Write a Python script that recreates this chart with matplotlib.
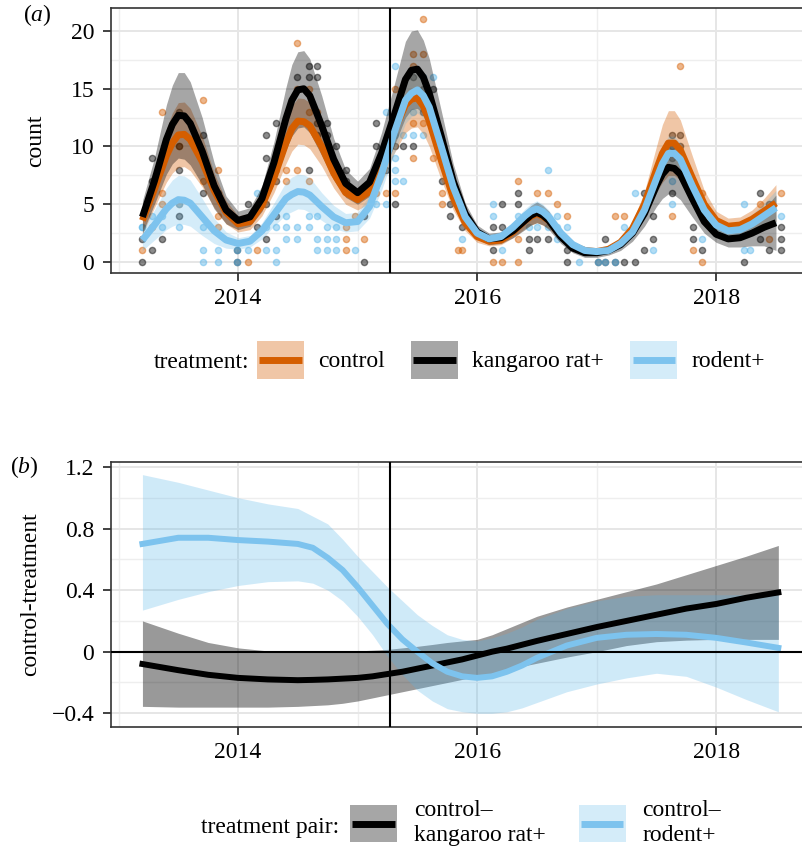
import numpy as np
import matplotlib.pyplot as plt
from matplotlib.colors import to_rgba
from matplotlib.patches import Rectangle
from matplotlib.lines import Line2D
from matplotlib.legend_handler import HandlerBase

plt.rcParams['font.family'] = ['Liberation Serif', 'DejaVu Serif']
plt.rcParams['mathtext.fontset'] = 'custom'
plt.rcParams['mathtext.rm'] = 'Liberation Serif'
plt.rcParams['mathtext.it'] = 'Liberation Serif:italic'

# ---- data ----
change_date = 2015.27

# smooth fits, panel (a)
t_fit = [2013.2, 2013.3, 2013.4, 2013.45, 2013.5, 2013.55, 2013.6, 2013.7, 2013.8, 2013.9,
         2014.0, 2014.1, 2014.2, 2014.3, 2014.4, 2014.45, 2014.5, 2014.55, 2014.6, 2014.7, 2014.8, 2014.9,
         2015.0, 2015.1, 2015.2, 2015.3, 2015.4, 2015.45, 2015.5, 2015.55, 2015.6, 2015.7, 2015.8, 2015.9,
         2016.0, 2016.1, 2016.2, 2016.3, 2016.4, 2016.45, 2016.5, 2016.55, 2016.6, 2016.7, 2016.8, 2016.9,
         2017.0, 2017.1, 2017.2, 2017.3, 2017.4, 2017.5, 2017.55, 2017.6, 2017.65, 2017.7, 2017.8, 2017.9,
         2018.0, 2018.1, 2018.2, 2018.3, 2018.4, 2018.5]

ctrl_fit = [3.6, 6.3, 9.2, 10.3, 11.0, 11.05, 10.6, 8.7, 6.2, 4.3,
            3.3, 3.5, 4.9, 7.3, 10.3, 11.55, 12.2, 12.15, 11.8, 10.0, 7.7, 6.0,
            5.4, 6.1, 8.2, 11.2, 13.6, 14.1, 14.2, 13.5, 12.2, 8.8, 5.6, 3.4,
            2.2, 1.8, 1.9, 2.6, 3.6, 3.95, 4.2, 3.95, 3.6, 2.3, 1.4, 1.0,
            0.9, 1.1, 1.7, 2.9, 5.0, 8.0, 9.4, 10.3, 10.3, 9.7, 7.3, 5.0,
            3.6, 3.1, 3.2, 3.7, 4.4, 5.1]
ctrl_hw = [1.2, 1.6, 2.3, 2.6, 2.8, 2.8, 2.7, 2.2, 1.5, 1.0,
           0.7, 0.7, 0.9, 1.3, 1.8, 1.95, 2.0, 2.0, 2.0, 1.7, 1.3, 1.0,
           0.9, 1.0, 1.4, 1.9, 2.4, 2.5, 2.5, 2.4, 2.2, 1.7, 1.1, 0.7,
           0.5, 0.4, 0.4, 0.5, 0.7, 0.75, 0.8, 0.75, 0.7, 0.5, 0.4, 0.3,
           0.3, 0.3, 0.4, 0.6, 1.1, 2.0, 2.5, 2.8, 2.8, 2.6, 1.9, 1.2,
           0.8, 0.7, 0.7, 0.8, 1.1, 1.6]

krat_fit = [3.9, 7.0, 10.6, 11.9, 12.7, 12.65, 12.0, 9.6, 6.6, 4.5,
            3.6, 3.9, 5.5, 8.6, 12.4, 14.0, 14.9, 15.0, 14.4, 11.8, 8.9, 6.8,
            6.0, 6.9, 9.4, 12.5, 15.8, 16.6, 16.7, 16.0, 14.6, 10.9, 7.0, 4.2,
            2.6, 2.0, 2.1, 2.7, 3.6, 4.05, 4.3, 4.05, 3.6, 2.2, 1.2, 0.8,
            0.8, 1.0, 1.5, 2.5, 4.2, 6.6, 7.6, 8.2, 8.1, 7.6, 5.5, 3.5,
            2.4, 2.0, 2.1, 2.5, 3.0, 3.4]
krat_hw = [1.4, 2.0, 3.0, 3.4, 3.7, 3.75, 3.6, 2.9, 2.0, 1.2,
           0.8, 0.8, 1.1, 1.8, 2.7, 3.1, 3.3, 3.3, 3.2, 2.6, 1.8, 1.2,
           1.0, 1.2, 1.8, 2.6, 3.3, 3.4, 3.4, 3.2, 3.0, 2.2, 1.5, 0.9,
           0.6, 0.5, 0.5, 0.6, 0.8, 0.85, 0.9, 0.85, 0.8, 0.6, 0.4, 0.4,
           0.4, 0.4, 0.5, 0.7, 1.1, 1.8, 2.1, 2.3, 2.3, 2.2, 1.6, 1.0,
           0.7, 0.7, 0.8, 1.1, 1.6, 2.4]

rod_fit = [1.9, 3.2, 4.6, 5.1, 5.4, 5.35, 5.1, 3.9, 2.7, 1.9,
           1.6, 1.8, 2.7, 4.1, 5.5, 5.85, 6.1, 6.05, 5.8, 4.8, 3.9, 3.4,
           3.5, 4.8, 7.6, 11.0, 14.0, 14.6, 14.9, 14.4, 13.4, 10.0, 6.5, 3.9,
           2.5, 2.0, 2.2, 3.0, 4.0, 4.4, 4.6, 4.35, 3.9, 2.5, 1.5, 1.0,
           0.9, 1.0, 1.6, 2.6, 4.5, 7.2, 8.5, 9.4, 9.4, 8.9, 6.6, 4.5,
           3.2, 2.7, 2.8, 3.3, 4.0, 4.7]
rod_hw = [0.9, 1.3, 1.8, 2.0, 2.1, 2.1, 2.0, 1.6, 1.1, 0.7,
          0.5, 0.5, 0.7, 1.0, 1.4, 1.5, 1.5, 1.5, 1.5, 1.2, 1.0, 0.8,
          0.8, 1.0, 1.4, 1.8, 2.0, 2.0, 2.0, 1.9, 1.8, 1.4, 1.0, 0.7,
          0.5, 0.4, 0.4, 0.5, 0.6, 0.65, 0.7, 0.65, 0.6, 0.5, 0.4, 0.3,
          0.3, 0.3, 0.4, 0.5, 0.8, 1.2, 1.4, 1.5, 1.5, 1.4, 1.1, 0.8,
          0.6, 0.6, 0.6, 0.8, 1.1, 1.5]

# plot-level counts, panel (a): (census date, counts)
ctrl_obs = [(2013.20, (1,)), (2013.28, (3,)), (2013.36, (13, 6, 5)), (2013.51, (10, 5)),
            (2013.71, (14, 7)), (2013.83, (8, 3, 4)), (2014.08, (0,)), (2014.16, (1,)),
            (2014.32, (8,)), (2014.40, (8, 7)), (2014.49, (19, 15, 8)), (2014.59, (15, 13, 7)),
            (2014.66, (13,)), (2014.74, (10,)), (2014.82, (8,)), (2014.90, (3, 2, 1)),
            (2014.98, (6, 4)), (2015.05, (2,)), (2015.15, (6,)), (2015.24, (6,)),
            (2015.31, (15, 6)), (2015.46, (18, 17, 12, 9)), (2015.55, (21, 18, 12)),
            (2015.63, (9,)), (2015.71, (6, 5)), (2015.84, (1,)), (2015.87, (1,)),
            (2016.13, (0,)), (2016.21, (0,)), (2016.34, (7, 2, 0)), (2016.50, (6,)),
            (2016.59, (6,)), (2016.67, (5,)), (2016.75, (4,)), (2017.15, (4,)),
            (2017.23, (4,)), (2017.63, (4,)), (2017.70, (17,)), (2017.81, (1,)),
            (2017.88, (6, 0)), (2018.37, (5,)), (2018.44, (2,)), (2018.54, (6,))]

krat_obs = [(2013.20, (0, 2)), (2013.28, (9, 7, 1)), (2013.36, (2,)), (2013.51, (13, 10, 8, 4)),
            (2013.71, (11, 6)), (2013.83, (6,)), (2013.99, (1, 0)), (2014.08, (5,)),
            (2014.16, (3,)), (2014.23, (11, 9, 5, 2)), (2014.32, (12, 7, 4)), (2014.49, (16,)),
            (2014.59, (17, 16, 8)), (2014.66, (17, 16, 12, 11)), (2014.74, (12, 11)),
            (2014.82, (10,)), (2014.90, (8, 7)), (2015.05, (0, 4)), (2015.15, (12, 10)),
            (2015.24, (8,)), (2015.31, (10, 5)), (2015.38, (10,)), (2015.46, (16, 10)),
            (2015.55, (15, 13)), (2015.63, (15,)), (2015.71, (7,)), (2015.77, (5, 4)),
            (2015.87, (3,)), (2016.13, (3, 1)), (2016.21, (5, 3)), (2016.34, (6, 5)),
            (2016.43, (2, 1)), (2016.50, (2,)), (2016.59, (2,)), (2016.75, (1, 0)),
            (2017.01, (0,)), (2017.07, (2, 0)), (2017.15, (0,)), (2017.23, (2, 0)),
            (2017.32, (0,)), (2017.40, (6, 1)), (2017.47, (4, 2)), (2017.63, (11, 10, 9, 6)),
            (2017.70, (11, 10)), (2017.81, (3, 2)), (2017.88, (1,)), (2018.23, (0,)),
            (2018.37, (6, 2)), (2018.44, (5, 1)), (2018.54, (3, 2, 1))]

rod_obs = [(2013.20, (3, 3)), (2013.28, (4,)), (2013.36, (3, 4)), (2013.51, (5, 3)),
           (2013.71, (3, 1, 0)), (2013.83, (1, 0)), (2013.99, (1, 0)), (2014.08, (1,)),
           (2014.16, (6,)), (2014.23, (3, 1)), (2014.32, (3, 1, 0)), (2014.40, (3, 2, 4)),
           (2014.49, (3, 2)), (2014.59, (4, 3)), (2014.66, (4, 2, 1)), (2014.74, (3, 2, 1)),
           (2014.82, (3, 2, 1)), (2014.98, (1,)), (2015.15, (5,)), (2015.24, (13, 5)),
           (2015.31, (17, 11, 9, 8, 7)), (2015.38, (11, 7)), (2015.46, (13, 11)),
           (2015.55, (16, 14, 11)), (2015.63, (16,)), (2015.71, (10,)), (2015.87, (2,)),
           (2016.13, (5, 4)), (2016.21, (1,)), (2016.34, (4,)), (2016.43, (3,)),
           (2016.50, (3,)), (2016.59, (8, 3)), (2016.67, (4, 3, 2)), (2016.75, (3,)),
           (2016.85, (0,)), (2017.01, (0,)), (2017.07, (0,)), (2017.15, (0,)),
           (2017.23, (3,)), (2017.32, (6,)), (2017.47, (1,)), (2017.63, (7, 5)),
           (2017.81, (7,)), (2017.88, (2,)), (2018.23, (5, 1)), (2018.28, (1,)), (2018.54, (4,))]

# panel (b): control minus treatment
t_diff = [2013.2, 2013.5, 2013.75, 2014.0, 2014.25, 2014.5, 2014.625, 2014.75, 2014.875,
          2015.0, 2015.125, 2015.25, 2015.375, 2015.5, 2015.625, 2015.75, 2015.875, 2016.0,
          2016.125, 2016.25, 2016.375, 2016.5, 2016.75, 2017.0, 2017.25, 2017.5, 2017.75,
          2018.0, 2018.25, 2018.52]
krat_diff = [-0.08, -0.12, -0.15, -0.17, -0.18, -0.185, -0.183, -0.18, -0.175,
             -0.17, -0.16, -0.145, -0.13, -0.11, -0.09, -0.07, -0.05, -0.025,
             0.0, 0.02, 0.045, 0.07, 0.115, 0.16, 0.20, 0.24, 0.28,
             0.31, 0.35, 0.385]
krat_diff_lo = [-0.355, -0.36, -0.36, -0.36, -0.36, -0.355, -0.35, -0.345, -0.335,
                -0.32, -0.30, -0.28, -0.26, -0.24, -0.22, -0.20, -0.18, -0.16,
                -0.14, -0.115, -0.095, -0.075, -0.035, 0.0, 0.04, 0.065, 0.075,
                0.08, 0.08, 0.08]
krat_diff_hi = [0.20, 0.12, 0.06, 0.025, 0.005, -0.005, -0.003, 0.0, 0.003,
                0.005, 0.01, 0.015, 0.025, 0.035, 0.047, 0.06, 0.07, 0.08,
                0.11, 0.15, 0.19, 0.23, 0.29, 0.34, 0.39, 0.44, 0.50,
                0.56, 0.62, 0.69]
rod_diff = [0.70, 0.74, 0.74, 0.725, 0.715, 0.70, 0.675, 0.61, 0.53,
            0.42, 0.30, 0.18, 0.08, 0.0, -0.075, -0.13, -0.16, -0.17,
            -0.16, -0.13, -0.09, -0.04, 0.04, 0.09, 0.11, 0.115, 0.11,
            0.09, 0.06, 0.025]
rod_diff_lo = [0.27, 0.34, 0.39, 0.43, 0.455, 0.46, 0.445, 0.40, 0.33,
               0.23, 0.11, -0.03, -0.15, -0.25, -0.32, -0.37, -0.39, -0.40,
               -0.40, -0.39, -0.365, -0.33, -0.26, -0.21, -0.17, -0.14, -0.16,
               -0.23, -0.31, -0.39]
rod_diff_hi = [1.15, 1.10, 1.05, 1.00, 0.96, 0.93, 0.88, 0.83, 0.73,
               0.62, 0.52, 0.42, 0.33, 0.24, 0.17, 0.11, 0.08, 0.07,
               0.09, 0.12, 0.16, 0.21, 0.28, 0.33, 0.36, 0.37, 0.37,
               0.37, 0.37, 0.37]

# ---- styling ----
C_CTRL = '#D55E00'
C_KRAT = '#000000'
C_ROD = '#56B4E9'
C_ROD_LINE = '#7DC3EE'
FS = 17


class KeyHandler(HandlerBase):
    # ggplot-style key: filled square with the line across the middle
    def create_artists(self, legend, orig_handle, xdescent, ydescent,
                       width, height, fontsize, trans):
        fill, lcol = orig_handle
        x0, y0 = -xdescent, -ydescent
        box = Rectangle((x0, y0), width, height, facecolor=fill, lw=0, transform=trans)
        ym = y0 + height / 2
        ln = Line2D([x0 + 0.05 * width, x0 + 0.95 * width], [ym, ym], color=lcol,
                    lw=5, solid_capstyle='butt', transform=trans)
        return [box, ln]


fig = plt.figure(figsize=(8.02, 8.5), dpi=100)
W, H = 802, 850
ax1 = fig.add_axes([111 / W, 1 - 273 / H, 702 / W, 265 / H])
ax2 = fig.add_axes([111 / W, 1 - 727 / H, 702 / W, 265 / H])

for ax in (ax1, ax2):
    ax.set_xlim(2012.937, 2018.81)
    ax.set_xticks([2014, 2016, 2018])
    ax.set_xticklabels(['2014', '2016', '2018'])
    ax.set_xticks([2013, 2015, 2017], minor=True)
    ax.grid(which='major', color='#E6E6E6', lw=1.4)
    ax.grid(which='minor', color='#EEEEEE', lw=1.0)
    ax.set_axisbelow(True)
    ax.tick_params(which='major', direction='out', length=5.5, width=1.3,
                   color='#333333', labelsize=FS, labelcolor='black')
    ax.tick_params(axis='x', pad=5)
    ax.tick_params(axis='y', pad=6.5)
    ax.tick_params(which='minor', length=0)
    for s in ax.spines.values():
        s.set_color('#333333')
        s.set_linewidth(1.2)
    ax.axvline(change_date, color='black', lw=1.5, zorder=6)

# panel (a)
series = [(ctrl_obs, ctrl_fit, ctrl_hw, C_CTRL, C_CTRL, 0.35),
          (krat_obs, krat_fit, krat_hw, C_KRAT, C_KRAT, 0.35),
          (rod_obs, rod_fit, rod_hw, C_ROD, C_ROD_LINE, 0.25)]

for obs, fit, hw, col, lcol, a in series:
    tt = [t for t, ns in obs for n in ns]
    nn = [n for t, ns in obs for n in ns]
    ax1.scatter(tt, nn, s=20, facecolor=to_rgba(col, 0.45),
                edgecolor=to_rgba(col, 0.45), linewidth=1.0, zorder=2)

for obs, fit, hw, col, lcol, a in series:
    fit = np.array(fit)
    hw = np.array(hw)
    ax1.fill_between(t_fit, fit - hw, fit + hw, color=col, alpha=a, lw=0, zorder=3)

for obs, fit, hw, col, lcol, a in series:
    ax1.plot(t_fit, fit, color=lcol, lw=5, solid_capstyle='butt',
             solid_joinstyle='round', zorder=4)

ax1.set_ylim(-0.952, 21.99)
ax1.set_yticks([0, 5, 10, 15, 20])
ax1.set_yticks([2.5, 7.5, 12.5, 17.5], minor=True)
ax1.set_ylabel('count', fontsize=FS)
ax1.yaxis.set_label_coords(-0.092, 0.5)

# panel (b)
ax2.fill_between(t_diff, krat_diff_lo, krat_diff_hi, color='black', alpha=0.4, lw=0, zorder=3)
ax2.fill_between(t_diff, rod_diff_lo, rod_diff_hi, color=C_ROD, alpha=0.28, lw=0, zorder=3)
ax2.axhline(0, color='black', lw=1.5, zorder=5)
ax2.plot(t_diff, krat_diff, color='black', lw=4.3, solid_joinstyle='round', zorder=4)
ax2.plot(t_diff, rod_diff, color=C_ROD_LINE, lw=4.3, solid_joinstyle='round', zorder=4)

ax2.set_ylim(-0.489, 1.232)
ax2.set_yticks([-0.4, 0, 0.4, 0.8, 1.2])
ax2.set_yticklabels(['\u22120.4', '0', '0.4', '0.8', '1.2'])
ax2.set_yticks([-0.2, 0.2, 0.6, 1.0], minor=True)
ax2.set_ylabel('control-treatment', fontsize=FS)
ax2.yaxis.set_label_coords(-0.1, 0.5)

# panel tags
fig.text(23 / W, 1 - 15 / H, r'($\mathit{a}$)', fontsize=FS, ha='left', va='center')
fig.text(10 / W, 1 - 467 / H, r'($\mathit{b}$)', fontsize=FS, ha='left', va='center')

# legends
hmap = {tuple: KeyHandler()}
h1 = [(to_rgba(C_CTRL, 0.35), C_CTRL),
      (to_rgba('black', 0.35), 'black'),
      (to_rgba(C_ROD, 0.25), C_ROD_LINE)]
fig.legend(h1, ['control', 'kangaroo rat+', 'rodent+'], ncol=3, loc='center left',
           bbox_to_anchor=(257 / W, 1 - 360 / H), frameon=False, fontsize=FS,
           handlelength=2.0, handleheight=2.05, handletextpad=0.6, columnspacing=1.1,
           borderpad=0, borderaxespad=0, handler_map=hmap)
fig.text(249 / W, 1 - 362 / H, 'treatment:', fontsize=FS, ha='right', va='center')

h2 = [(to_rgba('black', 0.35), 'black'),
      (to_rgba(C_ROD, 0.25), C_ROD_LINE)]
fig.legend(h2, ['control\u2013\nkangaroo rat+', 'control\u2013\nrodent+'], ncol=2,
           loc='center left', bbox_to_anchor=(350 / W, 1 - 823 / H), frameon=False,
           fontsize=FS, handlelength=2.0, handleheight=2.05, handletextpad=0.7,
           columnspacing=1.4, borderpad=0, borderaxespad=0, handler_map=hmap)
fig.text(339 / W, 1 - 827 / H, 'treatment pair:', fontsize=FS, ha='right', va='center')

fig.savefig('out.png', dpi=100)
